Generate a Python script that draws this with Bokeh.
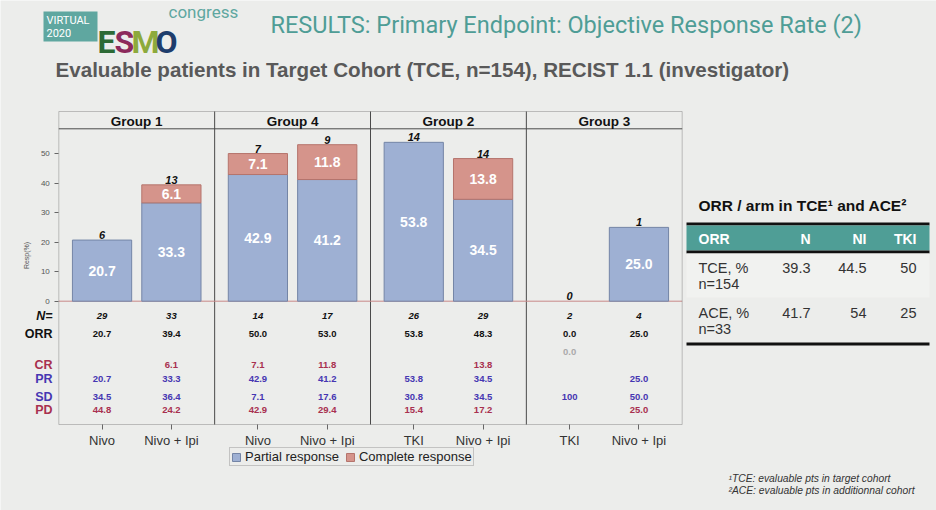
from bokeh.plotting import figure
from bokeh.models import (ColumnDataSource, FixedTicker, Label, BoxAnnotation,
                          Legend, LegendItem, Range1d)
from bokeh.embed import file_html
from bokeh.resources import INLINE
from bokeh.core.properties import value

# ---------------- data ----------------
groups = ["Group 1", "Group 4", "Group 2", "Group 3"]
arms = ["Nivo", "Nivo + Ipi", "Nivo", "Nivo + Ipi", "TKI", "Nivo + Ipi", "TKI", "Nivo + Ipi"]
partial = [20.7, 33.3, 42.9, 41.2, 53.8, 34.5, 0.0, 25.0]
complete = [0.0, 6.1, 7.1, 11.8, 0.0, 13.8, 0.0, 0.0]
responders = [6, 13, 7, 9, 14, 14, 0, 1]
n_pts = [29, 33, 14, 17, 26, 29, 2, 4]
orr = [20.7, 39.4, 50.0, 53.0, 53.8, 48.3, 0.0, 25.0]
extra_row = ["", "", "", "", "", "", "0.0", ""]
cr_row = ["", "6.1", "7.1", "11.8", "", "13.8", "", ""]
pr_row = ["20.7", "33.3", "42.9", "41.2", "53.8", "34.5", "", "25.0"]
sd_row = ["34.5", "36.4", "7.1", "17.6", "30.8", "34.5", "100", "50.0"]
pd_row = ["44.8", "24.2", "42.9", "29.4", "15.4", "17.2", "", "25.0"]
y_ticks = [0, 10, 20, 30, 40, 50]

tab_header = ["ORR", "N", "NI", "TKI"]
tab_rows = ["TCE, %", "ACE, %"]
tab_rows_n = ["n=154", "n=33"]
tab_N = ["39.3", "41.7"]
tab_NI = ["44.5", "54"]
tab_TKI = ["50", "25"]
footnotes = ["\u00b9TCE: evaluable pts in target cohort",
             "\u00b2ACE: evaluable pts in additionnal cohort"]

# ---------------- styles / layout ----------------
W, H = 936, 510
BG = "#ecedeb"
TEAL = "#4f9d96"
PR_FILL, PR_LINE = "#9eb0d3", "#7485a6"
CR_FILL, CR_LINE = "#d5948b", "#b5746c"
RED_TXT, BLUE_TXT = "#a8304f", "#4636b2"
FRAME_COL = "#4a4a4a"
FONT = "Liberation Sans"
NARROW = "Roboto"

PANEL_LEFT_PX, UNIT_X = 58.3, 77.925     # panel left edge, px per group-half
Y0_PX, UNIT_Y = 300.7, 2.953             # baseline pixel, px per percent


def dx(px):
    return (px - PANEL_LEFT_PX) / UNIT_X


def dy(py):
    return (Y0_PX - py) / UNIT_Y


PANEL_TOP, PANEL_BOTTOM = dy(111), dy(424)
HEADER_LINE = dy(128.3)

p = figure(width=W, height=H, x_range=Range1d(dx(0), dx(W)), y_range=Range1d(dy(H), dy(0)),
           output_backend="svg", toolbar_location=None, min_border=0,
           background_fill_color=BG, border_fill_color=BG)
p.grid.visible = False
p.outline_line_color = None

offsets = [0.555, 1.445]
xpos = [2 * g + o for g in range(len(groups)) for o in offsets]
BAR_W = 0.76
NG = len(groups)

# panel frame, header line, dividers, zero line
p.add_layout(BoxAnnotation(left=0, right=2 * NG, bottom=PANEL_BOTTOM, top=PANEL_TOP,
                           fill_color=None, line_color=FRAME_COL, line_width=1))
p.segment(x0=[0], x1=[2 * NG], y0=[HEADER_LINE], y1=[HEADER_LINE],
          line_color=FRAME_COL, line_width=1)
p.segment(x0=[2 * g for g in range(1, NG)], x1=[2 * g for g in range(1, NG)],
          y0=[PANEL_BOTTOM] * (NG - 1), y1=[PANEL_TOP] * (NG - 1),
          line_color=FRAME_COL, line_width=1)
p.segment(x0=[0], x1=[2 * NG], y0=[0], y1=[0], line_color="#c98888", line_width=1)

# bars
pr_i = [i for i, v in enumerate(partial) if v > 0]
src_pr = ColumnDataSource(dict(
    x=[xpos[i] for i in pr_i], top=[partial[i] for i in pr_i],
    mid=[partial[i] / 2 for i in pr_i], lab=[f"{partial[i]:.1f}" for i in pr_i]))
r_pr = p.vbar(x="x", top="top", bottom=0, width=BAR_W, source=src_pr,
              fill_color=PR_FILL, line_color=PR_LINE, line_width=1)
cr_i = [i for i, v in enumerate(complete) if v > 0]
src_cr = ColumnDataSource(dict(
    x=[xpos[i] for i in cr_i], bottom=[partial[i] for i in cr_i],
    top=[partial[i] + complete[i] for i in cr_i],
    mid=[partial[i] + complete[i] / 2 for i in cr_i],
    lab=[f"{complete[i]:.1f}" for i in cr_i]))
r_cr = p.vbar(x="x", top="top", bottom="bottom", width=BAR_W, source=src_cr,
              fill_color=CR_FILL, line_color=CR_LINE, line_width=1)

for src in (src_pr, src_cr):
    p.text(x="x", y="mid", text="lab", source=src, text_color="white",
           text_font=value(FONT), text_font_style="bold", text_font_size="14px",
           text_align="center", text_baseline="middle")

# responder counts above bars
p.text(x=xpos, y=[a + b for a, b in zip(partial, complete)],
       text=[str(r) for r in responders], text_color="#111111",
       text_font=value(FONT), text_font_style="bold italic", text_font_size="11px",
       text_align="center", text_baseline="bottom", y_offset=-1)

# group header names
p.text(x=[2 * g + 1 for g in range(NG)], y=[dy(120.5)] * NG, text=groups,
       text_color="#111111", text_font=value(FONT), text_font_style="bold",
       text_font_size="13.5px", text_align="center", text_baseline="middle")

# table rows inside the panel
rows = [
    ("N=", [str(v) for v in n_pts], dy(315.7), "#111111", "#111111", "bold italic"),
    ("ORR", [f"{v:.1f}" for v in orr], dy(333.3), "#111111", "#111111", "bold"),
    ("", extra_row, dy(351), "#111111", "#aaaaaa", "bold"),
    ("CR", cr_row, dy(364.5), RED_TXT, RED_TXT, "bold"),
    ("PR", pr_row, dy(378.5), BLUE_TXT, BLUE_TXT, "bold"),
    ("SD", sd_row, dy(396), BLUE_TXT, BLUE_TXT, "bold"),
    ("PD", pd_row, dy(409.5), RED_TXT, RED_TXT, "bold"),
]
for name, vals, yv, lab_col, val_col, style in rows:
    p.text(x=xpos, y=[yv] * len(vals), text=vals, text_color=val_col,
           text_font=value(FONT), text_font_style=style, text_font_size="9.5px",
           text_align="center", text_baseline="middle")
    if name:
        p.add_layout(Label(x=dx(52), y=yv, text=name, text_color=lab_col, text_font=FONT,
                           text_font_style="bold italic" if name == "N=" else "bold",
                           text_font_size="12.5px", text_align="right",
                           text_baseline="middle"))

# axes drawn at the panel edges
p.yaxis.fixed_location = 0
p.yaxis.ticker = FixedTicker(ticks=y_ticks)
p.yaxis.axis_label = "Resp(%)"
p.yaxis.axis_label_text_font_size = "7px"
p.yaxis.axis_label_text_font_style = "normal"
p.yaxis.axis_label_text_color = "#555555"
p.yaxis.axis_label_text_font = FONT
p.yaxis.axis_label_standoff = 8
p.yaxis.major_label_text_font_size = "8px"
p.yaxis.major_label_text_color = "#555555"
p.yaxis.major_label_text_font = FONT
p.yaxis.major_tick_out = 4
p.yaxis.major_tick_in = 0
p.yaxis.minor_tick_line_color = None
p.yaxis.axis_line_color = None
p.yaxis.major_tick_line_color = "#666666"

p.xaxis.fixed_location = PANEL_BOTTOM
p.xaxis.ticker = FixedTicker(ticks=xpos)
p.xaxis.major_label_overrides = {x: a for x, a in zip(xpos, arms)}
p.xaxis.major_label_text_font_size = "13px"
p.xaxis.major_label_text_color = "#333333"
p.xaxis.major_label_text_font = FONT
p.xaxis.major_label_standoff = 3
p.xaxis.major_tick_out = 5
p.xaxis.major_tick_in = 0
p.xaxis.minor_tick_line_color = None
p.xaxis.axis_line_color = None
p.xaxis.major_tick_line_color = "#666666"

# legend
legend = Legend(items=[LegendItem(label="Partial response", renderers=[r_pr]),
                       LegendItem(label="Complete response", renderers=[r_cr])],
                orientation="horizontal", location=(229, H - 466),
                background_fill_color=BG, background_fill_alpha=1,
                border_line_color="#999999", border_line_width=1,
                label_text_font=FONT, label_text_font_size="13px",
                label_text_color="#222222", glyph_width=10, glyph_height=10,
                label_standoff=4, spacing=6, padding=1, margin=0,
                label_height=12)
p.add_layout(legend, "center")


# ---------------- header: logo and titles ----------------
def lab(x, y, text, size, color, style="normal", font=FONT, align="left", baseline="middle"):
    p.add_layout(Label(x=dx(x), y=dy(y), text=text,
                       text_font=font, text_font_size=size, text_color=color,
                       text_font_style=style, text_align=align, text_baseline=baseline))


def box(l, r, t, b, color):
    p.add_layout(BoxAnnotation(left=dx(l), right=dx(r), top=dy(t), bottom=dy(b),
                               fill_color=color, fill_alpha=1, line_color=None))


box(43, 97, 11, 41, "#5fa7a0")
lab(46, 20, "VIRTUAL", "11px", "white", font=NARROW)
lab(46, 32, "2020", "11px", "white", font=NARROW)
for ch, x0, col in [("E", 97, "#2d6a35"), ("S", 114, "#8c2a5c"),
                    ("M", 131, "#8daa3c"), ("O", 155, "#1e3d6c")]:
    lab(x0, 41, ch, "32px", col, style="bold", font=NARROW, baseline="alphabetic")
lab(168, 11, "congress", "17px", "#5fa7a0", font=NARROW)

lab(270, 24, "RESULTS: Primary Endpoint: Objective Response Rate (2)", "23.5px", TEAL,
    font=NARROW)
lab(55, 69, "Evaluable patients in Target Cohort (TCE, n=154), RECIST 1.1 (investigator)",
    "20.6px", "#595959", style="bold")

# ---------------- right table ----------------
lab(698, 205, "ORR / arm in TCE\u00b9 and ACE\u00b2", "15.5px", "#111111", style="bold")
box(686, 929, 222, 225, "#111111")
box(686, 929, 225, 250, "#4f9e96")
box(686, 929, 250, 253, "#111111")
box(686, 929, 253, 297, "#f1f2f0")
box(686, 929, 342, 345, "#111111")
col_right = [810, 866, 916]
lab(698, 238, tab_header[0], "14px", "white", style="bold")
for h, xr in zip(tab_header[1:], col_right):
    lab(xr, 238, h, "14px", "white", style="bold", align="right")
for k, y0 in enumerate([267, 312]):
    lab(698, y0, tab_rows[k], "14.5px", "#333333")
    lab(698, y0 + 16, tab_rows_n[k], "14.5px", "#333333")
    for vals, xr in zip([tab_N, tab_NI, tab_TKI], col_right):
        lab(xr, y0, vals[k], "14.5px", "#333333", align="right")

for k, t in enumerate(footnotes):
    lab(728, 478 + 12 * k, t, "10.3px", "#333333", style="italic")

open("out.html", "w").write(file_html(p, INLINE))
